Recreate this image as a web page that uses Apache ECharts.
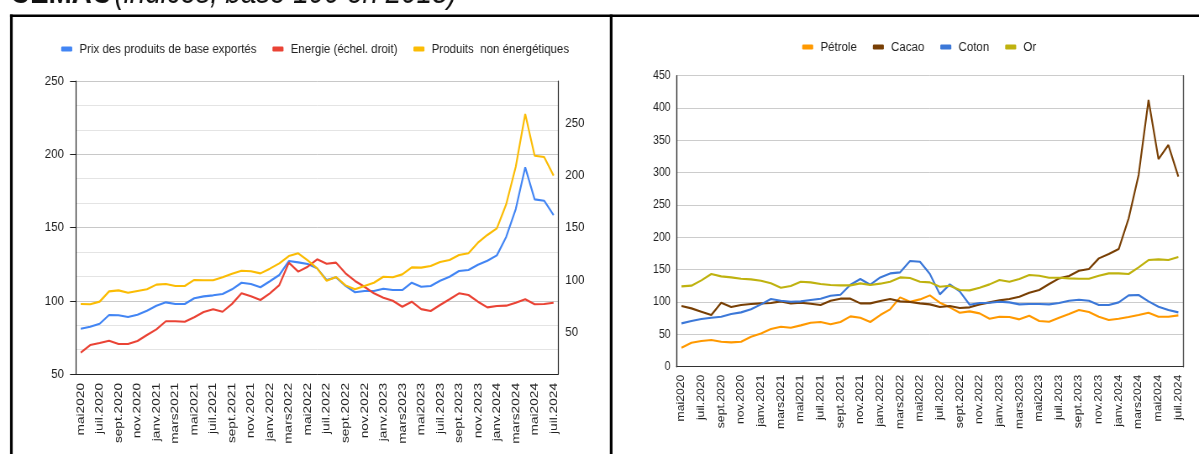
<!DOCTYPE html>
<html>
<head>
<meta charset="utf-8">
<script src="https://cdn.jsdelivr.net/npm/echarts@6/dist/echarts.min.js"></script>
<style>
  html, body { margin: 0; padding: 0; background: #ffffff; overflow: hidden; }
  #frame { width: 1199px; height: 454px; overflow: hidden; position: relative; }
  /* the chart is laid out wider, then squeezed horizontally to the page width */
  #chart { width: 1427px; height: 454px; transform: scaleX(0.840224); transform-origin: 0 0; }
</style>
</head>
<body>
<div id="frame"><div id="chart"></div></div>
<script>
// Months, May 2020 to July 2024
const months = [
  'mai2020', 'juin2020', 'juil.2020', 'août2020', 'sept.2020', 'oct.2020', 'nov.2020', 'déc.2020',
  'janv.2021', 'févr.2021', 'mars2021', 'avr.2021', 'mai2021', 'juin2021', 'juil.2021', 'août2021',
  'sept.2021', 'oct.2021', 'nov.2021', 'déc.2021', 'janv.2022', 'févr.2022', 'mars2022', 'avr.2022',
  'mai2022', 'juin2022', 'juil.2022', 'août2022', 'sept.2022', 'oct.2022', 'nov.2022', 'déc.2022',
  'janv.2023', 'févr.2023', 'mars2023', 'avr.2023', 'mai2023', 'juin2023', 'juil.2023', 'août2023',
  'sept.2023', 'oct.2023', 'nov.2023', 'déc.2023', 'janv.2024', 'févr.2024', 'mars2024', 'avr.2024',
  'mai2024', 'juin2024', 'juil.2024'
];

// Left panel: composite indices (left scale) and energy (right scale)
const prixBase = [
  80.9, 82.3, 84.3, 90.3, 90.1, 88.9, 90.5, 93.2, 96.6, 98.9, 97.8, 97.8, 101.7, 103.0, 103.7, 104.6,
  107.8, 112.3, 111.4, 109.2, 113.3, 117.6, 127.1, 126.2, 125.1, 122.1, 114.2, 116.0, 110.1, 105.8,
  106.7, 106.7, 108.2, 107.3, 107.3, 112.3, 109.6, 110.1, 113.7, 116.4, 120.3, 121.0, 124.6, 127.3,
  131.0, 143.7, 162.6, 191.1, 169.2, 168.3, 158.5
];
const energie = [
  30.4, 37.7, 39.6, 41.8, 38.7, 38.7, 41.5, 47.3, 52.7, 60.4, 60.4, 60.0, 64.2, 69.2, 71.8, 69.5,
  77.0, 87.1, 84.2, 80.7, 87.1, 95.0, 116.4, 107.8, 112.5, 119.6, 115.4, 116.4, 106.2, 98.9,
  93.4, 87.1, 82.9, 80.0, 74.3, 79.1, 72.0, 70.2, 75.9, 81.4, 87.1, 85.5, 79.1, 73.7,
  75.0, 75.3, 78.1, 81.4, 76.6, 76.9, 78.1
];
const nonEnergie = [
  97.8, 97.6, 99.4, 106.4, 107.1, 105.5, 106.7, 107.8, 111.0, 111.4, 110.1, 110.1, 114.2, 114.0, 114.0, 116.0,
  118.5, 120.5, 120.1, 118.7, 121.9, 125.5, 130.5, 132.4, 127.5, 122.1, 113.7, 116.2, 110.5, 107.8,
  110.1, 112.3, 116.4, 116.0, 118.0, 122.8, 122.6, 123.7, 126.5, 127.8, 131.2, 132.4, 139.6, 144.9,
  149.4, 166.0, 191.5, 227.5, 199.0, 198.1, 185.4
];

// Right panel: individual commodities
const petrole = [
  29.4, 37.1, 39.7, 41.2, 38.7, 37.6, 38.7, 46.4, 51.5, 58.2, 61.9, 60.3, 63.9, 68.0, 69.1, 65.5,
  69.1, 77.8, 75.8, 69.1, 79.9, 88.7, 107.2, 100.5, 104.1, 110.3, 99.0, 91.8, 83.5, 85.6,
  82.5, 74.2, 77.3, 76.8, 73.2, 78.9, 70.6, 69.6, 75.8, 81.4, 87.6, 84.5, 77.3, 72.2,
  74.2, 76.8, 79.9, 83.5, 77.3, 77.3, 79.4
];
const cacao = [
  93.8, 90.2, 85.1, 79.9, 99.0, 92.3, 95.4, 96.9, 97.9, 98.5, 101.0, 97.9, 99.0, 97.4, 95.4, 102.1,
  105.2, 105.2, 97.9, 97.9, 101.5, 104.6, 101.0, 100.0, 97.9, 96.4, 92.3, 93.8, 90.7, 91.8,
  96.4, 99.5, 102.6, 104.6, 108.2, 114.4, 118.6, 127.8, 136.6, 140.2, 148.5, 151.0, 167.5, 174.2,
  182.0, 229.4, 296.4, 412.4, 321.1, 342.8, 293.8
];
const coton = [
  67.0, 70.6, 73.7, 75.8, 77.3, 81.4, 84.0, 88.7, 96.4, 104.6, 102.1, 100.5, 101.0, 103.1, 105.2, 109.8,
  111.3, 126.8, 135.6, 126.8, 138.1, 144.3, 145.9, 163.4, 162.4, 143.3, 111.9, 127.3, 116.5, 95.9,
  98.5, 99.0, 100.5, 99.5, 96.4, 96.9, 96.9, 96.4, 98.5, 102.1, 103.6, 102.1, 95.4, 95.4,
  99.5, 110.3, 110.8, 101.0, 92.8, 87.6, 84.0
];
const or = [
  124.2, 125.3, 133.5, 143.3, 139.7, 138.1, 136.1, 135.1, 133.0, 128.9, 122.2, 124.7, 131.4, 130.4, 127.8, 126.3,
  125.8, 125.8, 128.9, 126.3, 128.4, 131.4, 138.1, 137.1, 131.4, 130.4, 123.7, 125.3, 118.6, 118.0,
  122.2, 127.3, 134.0, 131.4, 135.6, 141.8, 140.7, 137.6, 137.6, 136.6, 136.1, 136.1, 140.7, 144.3,
  144.3, 143.3, 153.6, 164.9, 166.0, 164.9, 169.6
];

// Axis ticks
const leftTicks = { min: 50, max: 250, step: 50 };
const energyTicks = [50, 100, 150, 200, 250];
const rightTicks = { min: 0, max: 450, step: 50 };

// horizontal squeeze applied by the CSS transform; X() converts page pixels to chart pixels
const SX = 0.840224;
const X = v => v / SX;

const FONT = '"Liberation Sans", Arial, sans-serif';
const TXT = '#222222';

const chart = echarts.init(document.getElementById('chart'), null, { renderer: 'canvas' });

const lineSeries = (name, data, color, xi, yi) => ({
  name, type: 'line', data,
  xAxisIndex: xi, yAxisIndex: yi,
  symbol: 'none', smooth: false,
  lineStyle: { color, width: 2.1 },
  itemStyle: { color },
  emphasis: { disabled: true },
  animation: false
});

const legendBase = {
  icon: 'roundRect', itemWidth: X(11), itemHeight: 5, itemGap: X(16),
  selectedMode: false,
  textStyle: { fontFamily: FONT, fontSize: 13.7, color: TXT, padding: [0, 0, 0, X(3)] }
};

const option = {
  animation: false,
  backgroundColor: '#ffffff',
  legend: [
    Object.assign({}, legendBase, {
      left: X(57), top: 37,
      data: ['Prix des produits de base exportés', 'Energie (échel. droit)', 'Produits  non énergétiques']
    }),
    Object.assign({}, legendBase, {
      left: X(798), top: 35,
      data: ['Pétrole', 'Cacao', 'Coton', 'Or']
    })
  ],
  grid: [
    { left: X(76), top: 81, width: X(482.3), height: 293, containLabel: false },
    { left: X(676.5), top: 75.7, width: X(506.8), height: 291, containLabel: false }
  ],
  xAxis: [
    {
      type: 'category', gridIndex: 0, data: months, boundaryGap: true,
      axisLine: { show: true, lineStyle: { color: '#222', width: 1 } },
      axisTick: { show: false },
      axisLabel: { interval: 1, rotate: 90, margin: 9, fontFamily: FONT, fontSize: 13.7, color: TXT }
    },
    {
      type: 'category', gridIndex: 1, data: months, boundaryGap: true,
      axisLine: { show: true, lineStyle: { color: '#333', width: 1.2 } },
      axisTick: { show: false },
      axisLabel: { interval: 1, rotate: 90, margin: 8, fontFamily: FONT, fontSize: 12.2, color: TXT }
    }
  ],
  yAxis: [
    {
      type: 'value', gridIndex: 0, position: 'left',
      min: leftTicks.min, max: leftTicks.max, interval: leftTicks.step,
      axisLine: { show: true, lineStyle: { color: '#222', width: 1.2 } },
      axisTick: { show: true, length: X(6), lineStyle: { color: '#222' } },
      axisLabel: { margin: X(12), fontFamily: FONT, fontSize: 13.7, color: TXT },
      splitLine: { show: true, lineStyle: { color: '#c8c8c8', width: 1 } },
      minorTick: { show: false, splitNumber: 3 },
      minorSplitLine: { show: true, lineStyle: { color: '#e4e4e4', width: 1 } }
    },
    {
      type: 'value', gridIndex: 0, position: 'right',
      min: 10, max: 290,
      axisLine: { show: true, lineStyle: { color: '#222', width: 1.2 } },
      axisTick: { show: false },
      axisLabel: { margin: X(7), fontFamily: FONT, fontSize: 13.7, color: TXT, customValues: energyTicks },
      splitLine: { show: false }
    },
    {
      type: 'value', gridIndex: 1, position: 'left',
      min: rightTicks.min, max: rightTicks.max, interval: rightTicks.step,
      axisLine: { show: true, lineStyle: { color: '#333', width: 1.4 } },
      axisTick: { show: false },
      axisLabel: { margin: X(6), fontFamily: FONT, fontSize: 12.4, color: TXT },
      splitLine: { show: true, lineStyle: { color: '#cccccc', width: 1 } }
    },
    {
      type: 'value', gridIndex: 1, position: 'right',
      min: rightTicks.min, max: rightTicks.max,
      axisLine: { show: true, lineStyle: { color: '#555', width: 1.4 } },
      axisTick: { show: false },
      axisLabel: { show: false },
      splitLine: { show: false }
    }
  ],
  series: [
    lineSeries('Prix des produits de base exportés', prixBase, '#4285f4', 0, 0),
    lineSeries('Energie (échel. droit)', energie, '#ea4335', 0, 1),
    lineSeries('Produits  non énergétiques', nonEnergie, '#fbbc04', 0, 0),
    lineSeries('Pétrole', petrole, '#ff9900', 1, 2),
    lineSeries('Cacao', cacao, '#783f04', 1, 2),
    lineSeries('Coton', coton, '#3c78d8', 1, 2),
    lineSeries('Or', or, '#bfb20f', 1, 2)
  ],
  graphic: [
    // heading, cut by the top edge
    {
      type: 'text', left: X(10), top: -23, silent: true,
      style: {
        text: '{b|CEMAC} {i|(indices, base 100 en 2018)}',
        rich: {
          b: { fontFamily: FONT, fontWeight: 'bold', fontSize: 33, fill: '#111' },
          i: { fontFamily: FONT, fontStyle: 'italic', fontSize: 33, fill: '#111' }
        }
      }
    },
    // table frame
    { type: 'rect', silent: true, shape: { x: X(10), y: 14.5, width: X(1189), height: 2.6 }, style: { fill: '#000' } },
    { type: 'rect', silent: true, shape: { x: X(10), y: 14.5, width: X(2.7), height: 440 }, style: { fill: '#000' } },
    { type: 'rect', silent: true, shape: { x: X(609.8), y: 14.5, width: X(2.7), height: 440 }, style: { fill: '#000' } }
  ]
};

chart.setOption(option);
</script>
</body>
</html>
